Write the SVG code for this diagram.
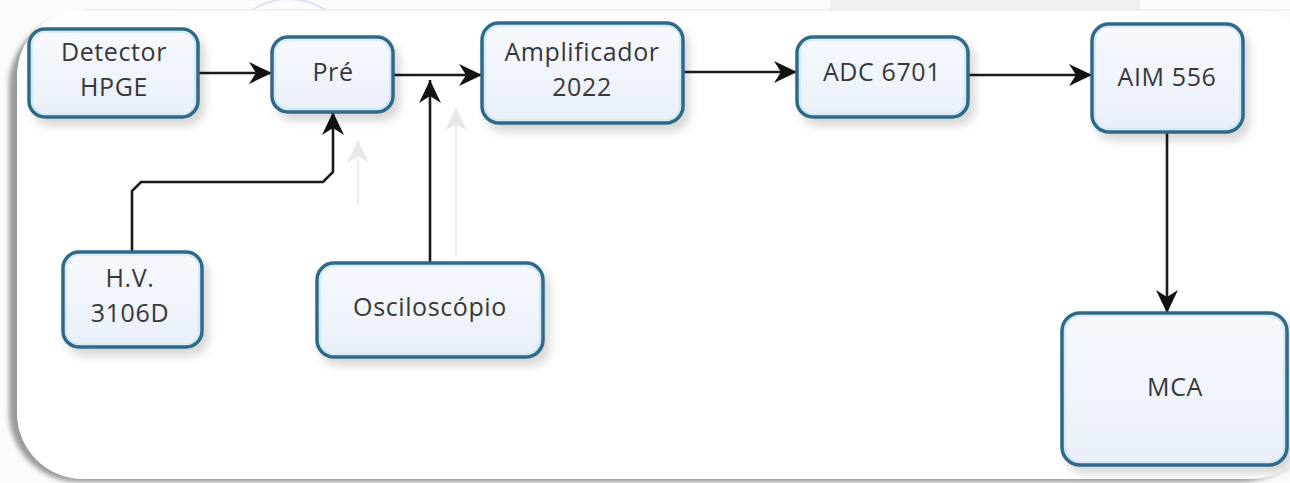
<svg xmlns="http://www.w3.org/2000/svg" width="1290" height="483" viewBox="0 0 1290 483">
  <defs>
    <linearGradient id="nodeFill" x1="0" y1="0" x2="0" y2="1">
      <stop offset="0" stop-color="#f7f9fd"/>
      <stop offset="1" stop-color="#e9eff9"/>
    </linearGradient>
    <filter id="nodeShadow" x="-20%" y="-20%" width="150%" height="160%">
      <feDropShadow dx="5" dy="7" stdDeviation="5" flood-color="#000" flood-opacity="0.16"/>
    </filter>
    <filter id="soft" x="-5%" y="-5%" width="110%" height="110%">
      <feGaussianBlur stdDeviation="2.5"/>
    </filter>
    <marker id="arrow" markerUnits="userSpaceOnUse" markerWidth="26" markerHeight="24" refX="23" refY="12" orient="auto">
      <path d="M0,1 L23,12 L0,23 L7,12 Z" fill="#111"/>
    </marker>
    <marker id="ghostArrow" markerUnits="userSpaceOnUse" markerWidth="26" markerHeight="24" refX="23" refY="12" orient="auto">
      <path d="M0,1 L23,12 L0,23 L7,12 Z" fill="#e8e8e8"/>
    </marker>
    <style>
      .box { fill: url(#nodeFill); stroke: #2d6a88; stroke-width: 3.5; filter: url(#nodeShadow); }
      .inner { fill: none; stroke: #bfe6f3; stroke-width: 1.2; }
      .label { font-family: "Open Sans", "Noto Sans", sans-serif; font-size: 25px; fill: #383838; text-anchor: middle; letter-spacing: 0.6px; }
      .wire { fill: none; stroke: #1a1a1a; stroke-width: 2.6; marker-end: url(#arrow); }
      .ghost { fill: none; stroke: #ededed; stroke-width: 2; marker-end: url(#ghostArrow); }
    </style>
  </defs>

  <!-- page backdrop -->
  <rect x="0" y="0" width="1290" height="483" fill="#fbfbfb"/>
  <rect x="830" y="0" width="310" height="10" fill="#f0f0f2"/>
  <path d="M252,10 Q288,-12 326,10" fill="none" stroke="#dbe2f1" stroke-width="2"/>
  <path d="M1238,12 Q1280,25 1290,60" fill="none" stroke="#e6e6e6" stroke-width="1.5" stroke-dasharray="2 2"/>

  <!-- panel with its shadow -->
  <rect x="9" y="16" width="1300" height="466" rx="70" fill="#9a9a9a" filter="url(#soft)"/>
  <rect x="17" y="10" width="1300" height="469" rx="66" fill="#ffffff"/>
  <path d="M83,10 H1290" stroke="#ececec" stroke-width="1.5"/>

  <!-- faint leftover connectors -->
  <g id="faint">
    <path class="ghost" d="M358,205 V140"/>
    <path class="ghost" d="M456,258 V108"/>
  </g>

  <g id="connectors">
    <path class="wire" d="M198,73 H272"/>
    <path class="wire" d="M393,75 H482"/>
    <path class="wire" d="M430,263 V80"/>
    <path class="wire" d="M132,252 V191 L141,182 H323 L333,172 V112"/>
    <path class="wire" d="M683,72 H797"/>
    <path class="wire" d="M968,75 H1092"/>
    <path class="wire" d="M1167,132 V313"/>
  </g>

  <g id="detector">
    <rect class="box" x="29" y="29" width="169" height="88" rx="16"/>
    <rect class="inner" x="32" y="32" width="163" height="82" rx="13"/>
    <text class="label" x="114" y="61">Detector</text>
    <text class="label" x="114" y="96">HPGE</text>
  </g>

  <g id="pre">
    <rect class="box" x="272" y="37" width="121" height="75" rx="16"/>
    <rect class="inner" x="275" y="40" width="115" height="69" rx="13"/>
    <text class="label" x="333" y="81">Pré</text>
  </g>

  <g id="amplificador">
    <rect class="box" x="482" y="23" width="201" height="100" rx="17"/>
    <rect class="inner" x="485" y="26" width="195" height="94" rx="14"/>
    <text class="label" x="582" y="61">Amplificador</text>
    <text class="label" x="582" y="96">2022</text>
  </g>

  <g id="adc">
    <rect class="box" x="797" y="37" width="171" height="80" rx="16"/>
    <rect class="inner" x="800" y="40" width="165" height="74" rx="13"/>
    <text class="label" x="882" y="81">ADC 6701</text>
  </g>

  <g id="aim">
    <rect class="box" x="1092" y="24" width="151" height="108" rx="17"/>
    <rect class="inner" x="1095" y="27" width="145" height="102" rx="14"/>
    <text class="label" x="1167" y="86">AIM 556</text>
  </g>

  <g id="hv">
    <rect class="box" x="63" y="252" width="139" height="95" rx="16"/>
    <rect class="inner" x="66" y="255" width="133" height="89" rx="13"/>
    <text class="label" x="130" y="287">H.V.</text>
    <text class="label" x="130" y="322">3106D</text>
  </g>

  <g id="osciloscopio">
    <rect class="box" x="317" y="263" width="226" height="94" rx="17"/>
    <rect class="inner" x="320" y="266" width="220" height="88" rx="14"/>
    <text class="label" x="430" y="316">Osciloscópio</text>
  </g>

  <g id="mca">
    <rect class="box" x="1062" y="313" width="225" height="152" rx="18"/>
    <rect class="inner" x="1065" y="316" width="219" height="146" rx="15"/>
    <text class="label" x="1175" y="396">MCA</text>
  </g>
</svg>
